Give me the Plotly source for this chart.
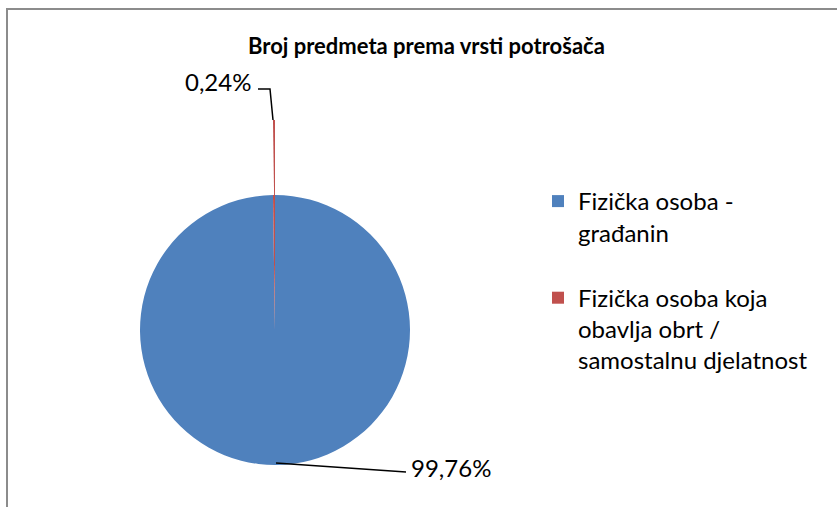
import plotly.graph_objects as go

categories = ["Fizička osoba -<br>građanin<br> ",
              "Fizička osoba koja<br>obavlja obrt /<br>samostalnu djelatnost"]
values = [99.76, 0.24]
colors = ["#4F81BD", "#C0504D"]
title_text = "Broj predmeta prema vrsti potrošača"

W, H = 837, 507
FONT = "Lato"

def px_x(x):
    return x / W

def px_y(y):
    return 1 - y / H

def pct(v):
    return f"{v:.2f}%".replace(".", ",")

fig = go.Figure()

# main pie (in place)
fig.add_trace(go.Pie(
    labels=categories, values=values, sort=False, direction="clockwise", rotation=0,
    marker=dict(colors=colors, line=dict(width=0)),
    textinfo="none", hoverinfo="label+percent",
    domain=dict(x=[px_x(140), px_x(410)], y=[px_y(465), px_y(195)]),
    showlegend=True,
))
# exploded small slice
fig.add_trace(go.Pie(
    labels=categories, values=values, sort=False, direction="clockwise", rotation=0,
    marker=dict(colors=["rgba(0,0,0,0)", colors[1]], line=dict(width=0)),
    textinfo="none", hoverinfo="skip",
    domain=dict(x=[px_x(140), px_x(410)], y=[px_y(390), px_y(120)]),
    showlegend=False,
))

annotations = [
    dict(text=f"<b>{title_text}</b>", x=px_x(426), y=px_y(45), xref="paper", yref="paper",
         showarrow=False, font=dict(family=FONT, size=22, color="#000000"),
         xanchor="center", yanchor="middle"),
    dict(text=pct(values[1]), x=px_x(253), y=px_y(82), xref="paper", yref="paper",
         showarrow=False, font=dict(family=FONT, size=24, color="#000000"),
         xanchor="right", yanchor="middle"),
    dict(text=pct(values[0]), x=px_x(409), y=px_y(467), xref="paper", yref="paper",
         showarrow=False, font=dict(family=FONT, size=24, color="#000000"),
         xanchor="left", yanchor="middle"),
]

shapes = [
    # chart frame
    dict(type="line", xref="paper", yref="paper", x0=px_x(6), x1=px_x(837), y0=px_y(9), y1=px_y(9),
         line=dict(color="#8C8C8C", width=2)),
    dict(type="line", xref="paper", yref="paper", x0=px_x(7), x1=px_x(7), y0=px_y(9), y1=px_y(507),
         line=dict(color="#8C8C8C", width=2)),
    # leader lines
    dict(type="path", xref="paper", yref="paper",
         path=f"M {px_x(258)} {px_y(89)} L {px_x(270)} {px_y(89)} L {px_x(273)} {px_y(120)}",
         line=dict(color="#000000", width=1.5)),
    dict(type="path", xref="paper", yref="paper",
         path=f"M {px_x(276)} {px_y(463)} L {px_x(406)} {px_y(472)}",
         line=dict(color="#000000", width=1.5)),
]

fig.update_layout(
    width=W, height=H,
    margin=dict(l=0, r=0, t=0, b=0),
    paper_bgcolor="#FFFFFF", plot_bgcolor="#FFFFFF",
    annotations=annotations, shapes=shapes,
    legend=dict(x=px_x(538), y=px_y(179), xanchor="left", yanchor="top",
                valign="top", font=dict(family=FONT, size=24, color="#000000"),
                bgcolor="rgba(0,0,0,0)", itemclick=False, itemdoubleclick=False),
)

fig.write_html("out.html", config={"displayModeBar": False},
               post_script="document.body.style.margin='0';")
